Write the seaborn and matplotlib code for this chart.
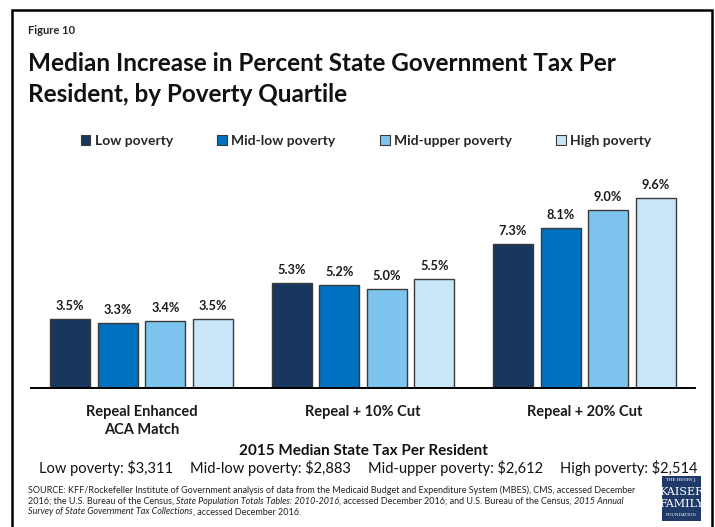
import matplotlib
matplotlib.use("Agg")
import matplotlib.pyplot as plt
import matplotlib.patches as mpatches
import pandas as pd
import seaborn as sns

# ---- data ----
scenarios = ["Repeal Enhanced\nACA Match", "Repeal + 10% Cut", "Repeal + 20% Cut"]
quartiles = ["Low poverty", "Mid-low poverty", "Mid-upper poverty", "High poverty"]
low_poverty = [3.5, 5.3, 7.3]
mid_low_poverty = [3.3, 5.2, 8.1]
mid_upper_poverty = [3.4, 5.0, 9.0]
high_poverty = [3.5, 5.5, 9.6]
median_tax = ["$3,311", "$2,883", "$2,612", "$2,514"]

colors = ["#17375E", "#0070C0", "#7DC5EE", "#C9E6F8"]

rows = []
for q, vals in zip(quartiles, [low_poverty, mid_low_poverty, mid_upper_poverty, high_poverty]):
    for s, v in zip(scenarios, vals):
        rows.append({"scenario": s, "quartile": q, "value": v})
df = pd.DataFrame(rows)

sns.set_theme(style="white")
plt.rcParams["font.family"] = ["Lato", "DejaVu Sans"]

W, H = 715, 527
fig = plt.figure(figsize=(W / 100, H / 100), dpi=100)

def fx(px):
    return px / W

def fy(py):
    return 1 - py / H

# plot area
ax_left, ax_right, base_y, top_y = 31, 695, 388.3, 170.5
ax = fig.add_axes([fx(ax_left), fy(base_y), fx(ax_right - ax_left), (base_y - top_y) / H])

sns.barplot(data=df, x="scenario", y="value", hue="quartile", order=scenarios,
            hue_order=quartiles, palette=colors, width=0.86, gap=0.16,
            edgecolor="#3A3A3A", linewidth=1.0, saturation=1, legend=False, ax=ax)

for cont in ax.containers:
    ax.bar_label(cont, fmt="%.1f%%", padding=5, fontsize=9.2, fontweight="bold", color="#1a1a1a")

ax.set_xlim(-0.5, 2.5)
ax.set_ylim(0, 11)
ax.set_xlabel("")
ax.set_ylabel("")
ax.set_yticks([])
ax.tick_params(axis="x", length=0, pad=12)
for lab in ax.get_xticklabels():
    lab.set_fontsize(10.5)
    lab.set_fontweight("bold")
    lab.set_color("#1a1a1a")
    lab.set_linespacing(1.35)
for side in ["left", "right", "top"]:
    ax.spines[side].set_visible(False)
ax.spines["bottom"].set_color("black")
ax.spines["bottom"].set_linewidth(1.4)

# legend
handles = [mpatches.Patch(facecolor=c, edgecolor="#3A3A3A", linewidth=0.8, label=q)
           for c, q in zip(colors, quartiles)]
fig.legend(handles=handles, loc="center", bbox_to_anchor=(fx(366), fy(141)), ncol=4,
           frameon=False, prop={"weight": "bold", "size": 10},
           handlelength=0.7, handleheight=0.7, handletextpad=0.3, columnspacing=3.2)

# heading
fig.text(fx(28), fy(30), "Figure 10", fontsize=8, fontweight="bold", va="center", ha="left")
fig.text(fx(28), fy(79), "Median Increase in Percent State Government Tax Per\nResident, by Poverty Quartile",
         fontsize=17.5, fontweight="bold", va="center", ha="left", linespacing=1.45, color="#111111")

# median tax footer
fig.text(fx(363), fy(451), "2015 Median State Tax Per Resident", fontsize=11, fontweight="bold",
         ha="center", va="center", color="#111111")

fig.canvas.draw()
renderer = fig.canvas.get_renderer()

# spread the four median values evenly across the footer line
items = [fig.text(0, fy(468), f"{q}: {t}", fontsize=10.5, ha="left", va="center", color="#111111")
         for q, t in zip(quartiles, median_tax)]
widths = [t.get_window_extent(renderer=renderer).width for t in items]
span_left, span_right = 39, 697
gap = (span_right - span_left - sum(widths)) / (len(items) - 1)
x = span_left
for t, w in zip(items, widths):
    t.set_x(fx(x))
    x += w + gap

def runs(x0, y0, parts, size=6.5):
    x = fx(x0)
    for txt, style in parts:
        t = fig.text(x, fy(y0), txt, fontsize=size, style=style, ha="left", va="center", color="#222222")
        bb = t.get_window_extent(renderer=renderer)
        x += bb.width / fig.bbox.width

runs(28, 490, [("SOURCE: KFF/Rockefeller Institute of Government analysis of data from the Medicaid Budget and Expenditure System (MBES), CMS, accessed December", "normal")])
runs(28, 501, [("2016; the U.S. Bureau of the Census, ", "normal"),
               ("State Population Totals Tables: 2010-2016", "italic"),
               (", accessed December 2016; and U.S. Bureau of the Census, ", "normal"),
               ("2015 Annual", "italic")])
runs(28, 512, [("Survey of State Government Tax Collections", "italic"),
               (", accessed December 2016.", "normal")])

# foundation mark
fig.patches.append(mpatches.Rectangle((fx(662), fy(521)), fx(39), (521 - 476) / H,
                                      transform=fig.transFigure, facecolor="#1F3A68", edgecolor="none"))
fig.text(fx(681.5), fy(480.5), "THE HENRY J.", fontsize=3, color="white", ha="center", va="center", family="DejaVu Serif")
fig.text(fx(681.5), fy(492), "KAISER", fontsize=8, color="white", ha="center", va="center", family="DejaVu Serif")
fig.text(fx(681.5), fy(504), "FAMILY", fontsize=8, color="white", ha="center", va="center", family="DejaVu Serif")
fig.text(fx(681.5), fy(515.5), "FOUNDATION", fontsize=3, color="white", ha="center", va="center", family="DejaVu Serif")

# outer frame
fig.patches.append(mpatches.Rectangle((fx(12), -0.02), fx(700), fy(10) + 0.02,
                                      transform=fig.transFigure, fill=False, edgecolor="black", linewidth=1.8))

fig.savefig("out.png", dpi=100)
